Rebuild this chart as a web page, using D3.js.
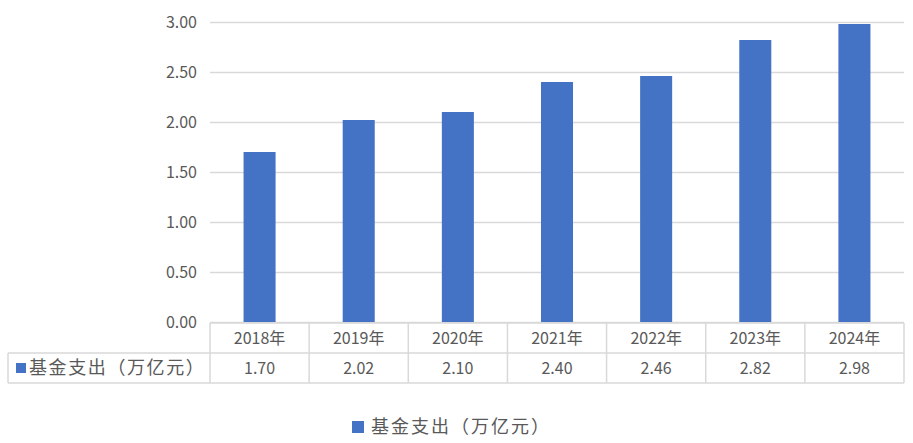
<!DOCTYPE html>
<html>
<head>
<meta charset="utf-8">
<script src="https://cdn.jsdelivr.net/npm/d3@7"></script>
<style>
  body { margin: 0; background: #fff; }
  text { font-family: "Noto Sans CJK SC", "Noto Sans", sans-serif; fill: #595959; }
</style>
</head>
<body>
<div class="container"></div>
<script>
// chart data
const years = ["2018年", "2019年", "2020年", "2021年", "2022年", "2023年", "2024年"];
const spending = [1.70, 2.02, 2.10, 2.40, 2.46, 2.82, 2.98];
const yTicks = [0, 0.5, 1, 1.5, 2, 2.5, 3];
const seriesName = "基金支出（万亿元）";

const width = 913;
const height = 443;
const margin = { top: 22, left: 210, right: 9 };
const plotBottom = 322;
const rowH = 30;
const tableLeft = 8;

const svg = d3.select(".container")
  .append("svg")
  .attr("width", width)
  .attr("height", height);

const x = d3.scaleBand()
  .domain(years)
  .range([margin.left, width - margin.right])
  .paddingInner(0.677)
  .paddingOuter(0.677 / 2);

const y = d3.scaleLinear()
  .domain([0, 3])
  .range([plotBottom, margin.top]);

// gridlines
svg.append("g")
  .selectAll("line")
  .data(yTicks)
  .enter()
  .append("line")
  .attr("x1", margin.left)
  .attr("x2", width - margin.right)
  .attr("y1", d => y(d) + 0.5)
  .attr("y2", d => y(d) + 0.5)
  .attr("stroke", "#d9d9d9")
  .attr("stroke-width", 1.3);

// y axis labels
svg.append("g")
  .selectAll("text")
  .data(yTicks)
  .enter()
  .append("text")
  .attr("x", 197)
  .attr("y", d => y(d))
  .attr("dy", "0.35em")
  .attr("text-anchor", "end")
  .style("font-size", "16px")
  .text(d => d3.format(".2f")(d));

// bars
svg.append("g")
  .selectAll("rect")
  .data(spending)
  .enter()
  .append("rect")
  .attr("x", (d, i) => x(years[i]))
  .attr("y", d => y(d))
  .attr("width", x.bandwidth())
  .attr("height", d => y(0) - y(d))
  .attr("fill", "#4472c4");

// data table below the axis
const table = svg.append("g")
  .attr("stroke", "#d9d9d9")
  .attr("stroke-width", 1.5)
  .attr("fill", "none");

const step = x.step();
const tLeft = margin.left;
const tRight = width - margin.right;

table.append("line")
  .attr("x1", tLeft).attr("x2", tRight)
  .attr("y1", plotBottom + 1).attr("y2", plotBottom + 1);
table.append("line")
  .attr("x1", tableLeft).attr("x2", tRight)
  .attr("y1", plotBottom + 1 + rowH).attr("y2", plotBottom + 1 + rowH);
table.append("line")
  .attr("x1", tableLeft).attr("x2", tRight)
  .attr("y1", plotBottom + 1 + 2 * rowH).attr("y2", plotBottom + 1 + 2 * rowH);
table.append("line")
  .attr("x1", tableLeft).attr("x2", tableLeft)
  .attr("y1", plotBottom + 1 + rowH).attr("y2", plotBottom + 1 + 2 * rowH);

table.selectAll(".vline")
  .data(d3.range(years.length + 1))
  .enter()
  .append("line")
  .attr("class", "vline")
  .attr("x1", i => tLeft + i * step)
  .attr("x2", i => tLeft + i * step)
  .attr("y1", plotBottom + 1)
  .attr("y2", plotBottom + 1 + 2 * rowH);

// year labels
svg.append("g")
  .selectAll("text")
  .data(years)
  .enter()
  .append("text")
  .attr("x", d => x(d) + x.bandwidth() / 2)
  .attr("y", plotBottom + 1 + rowH / 2)
  .attr("dy", "0.35em")
  .attr("text-anchor", "middle")
  .style("font-size", "16px")
  .text(d => d);

// value labels
svg.append("g")
  .selectAll("text")
  .data(spending)
  .enter()
  .append("text")
  .attr("x", (d, i) => x(years[i]) + x.bandwidth() / 2)
  .attr("y", plotBottom + 1 + rowH * 1.5)
  .attr("dy", "0.35em")
  .attr("text-anchor", "middle")
  .style("font-size", "16px")
  .text(d => d3.format(".2f")(d));

// series key inside the table
svg.append("rect")
  .attr("x", 16).attr("y", plotBottom + 1 + rowH * 1.5 - 5)
  .attr("width", 10).attr("height", 10)
  .attr("fill", "#4472c4");
svg.append("text")
  .attr("x", 29)
  .attr("y", plotBottom + 1 + rowH * 1.5)
  .attr("dy", "0.35em")
  .style("font-size", "18px")
  .style("letter-spacing", "1.6px")
  .text(seriesName);

// bottom legend
svg.append("rect")
  .attr("x", 352).attr("y", 421)
  .attr("width", 12).attr("height", 12)
  .attr("fill", "#4472c4");
svg.append("text")
  .attr("x", 371)
  .attr("y", 427)
  .attr("dy", "0.35em")
  .style("font-size", "18px")
  .style("letter-spacing", "2px")
  .text(seriesName);
</script>
</body>
</html>
